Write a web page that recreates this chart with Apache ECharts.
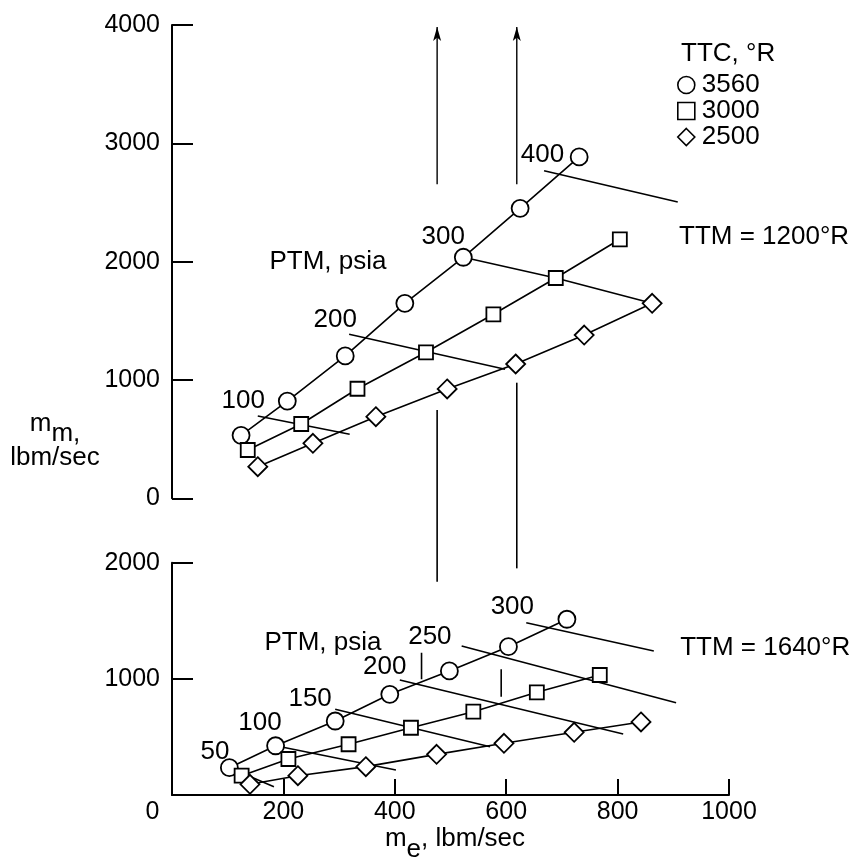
<!DOCTYPE html>
<html><head><meta charset="utf-8">
<script src="https://cdn.jsdelivr.net/npm/echarts@6/dist/echarts.min.js"></script>
<style>html,body{margin:0;padding:0;background:#fff}#c{width:856px;height:867px}</style>
</head><body><div id="c"></div>
<script>
const FONT = "'Liberation Sans', Arial, Helvetica, sans-serif";

// Legend / series definitions (TTC, °R)
const ttcNames = ['3560', '3000', '2500'];
const ttcSymbols = ['circle', 'rect', 'diamond'];
const ttcSizes = [17, 14, 19];

// Top panel, TTM = 1200°R : [m_e, m_m]
const top3560 = [[124,532],[207,822],[311,1203],[418,1648],[523,2037],[625,2451],[731,2885]];
const top3000 = [[136,408],[232,628],[333,926],[456,1234],[577,1555],[689,1862],[804,2189]];
const top2500 = [[154,267],[253,465],[366,690],[494,924],[617,1135],[740,1380],[862,1648]];
// constant-PTM lines (top)
const topPTM100 = [[154,696],[319,541]];
const topPTM200 = [[318,1386],[598,1090]];
const topPTM300 = [[523,2037],[689,1862],[862,1648]];
const topPTM400 = [[668,2769],[908,2504]];

// Bottom panel, TTM = 1640°R
const bot3560 = [[103,235],[186,424],[293,637],[391,867],[498,1068],[604,1277],[709,1513]];
const bot3000 = [[125,166],[209,310],[317,437],[429,579],[541,717],[655,884],[768,1033]];
const bot2500 = [[140,92],[226,166],[348,244],[475,350],[596,445],[722,540],[842,629]];
const botPTM50  = [[103,235],[183,71]];
const botPTM100 = [[186,424],[402,215]];
const botPTM150 = [[293,738],[571,416]];
const botPTM200 = [[409,990],[810,525]];
const botPTM250 = [[520,1283],[905,795]];
const botPTM300 = [[636,1483],[865,1240]];
// short vertical marks in bottom panel: [x, yFrom, yTo]
const botMarks = [[448,996,1225],[591,846,1082]];

// arrows (top panel): x positions, from/to m_m
const arrowX = [476, 619];
const arrowFrom = 2654, arrowTo = 3983;
// vertical links between panels (top panel coords): [x, yFrom, yTo]
const linkLines = [[476,746,-705],[619,977,-592]];

// Annotations: [text, m_e, m_m]
const topLabels = [['100',128,822],['200',293,1509],['300',487,2213],['400',665,2901],
  ['PTM, psia',280,1997],['TTM = 1200°R',1063,2208]];
const botLabels = [['PTM, psia',271,1313],['250',463,1363],['200',382,1105],['150',248,827],
  ['100',158,624],['50',77,370],['300',611,1621],['TTM = 1640°R',1065,1270]];

const xMin = 0, xMax = 1000, xInterval = 200;
const topYMax = 4000, botYMax = 2000, yInterval = 1000;

const chart = echarts.init(document.getElementById('c'), null, {renderer: 'canvas'});

function ttcSeries(i, data, gi) {
  return {
    name: ttcNames[i], type: 'line', xAxisIndex: gi, yAxisIndex: gi, data: data,
    symbol: ttcSymbols[i], symbolSize: ttcSizes[i], showAllSymbol: true, z: 4,
    itemStyle: {color: '#fff', borderColor: '#000', borderWidth: 1.8},
    lineStyle: {color: '#000', width: 1.6}, animation: false, silent: true
  };
}
function plainLine(data, gi, name) {
  return {
    name: name, type: 'line', xAxisIndex: gi, yAxisIndex: gi, data: data,
    symbol: 'none', z: 2, clip: false, lineStyle: {color: '#000', width: 1.6},
    animation: false, silent: true
  };
}
function labelSeries(labels, gi) {
  return {
    type: 'scatter', xAxisIndex: gi, yAxisIndex: gi, clip: false, z: 5,
    symbolSize: 1, itemStyle: {color: '#fff', opacity: 0}, silent: true, animation: false,
    data: labels.map(l => ({name: l[0], value: [l[1], l[2]]})),
    label: {show: true, position: 'inside', formatter: '{b}', color: '#000', opacity: 1,
      textBorderWidth: 0, fontFamily: FONT, fontSize: 26, align: 'center', verticalAlign: 'middle'}
  };
}

const series = [];
[topPTM100, topPTM200, topPTM300, topPTM400].forEach((d, k) => series.push(plainLine(d, 0, 'ptmTop' + k)));
[botPTM50, botPTM100, botPTM150, botPTM200, botPTM250, botPTM300].forEach((d, k) => series.push(plainLine(d, 1, 'ptmBot' + k)));
botMarks.forEach((m, k) => series.push(plainLine([[m[0], m[1]], [m[0], m[2]]], 1, 'mark' + k)));
linkLines.forEach((m, k) => series.push(plainLine([[m[0], m[1]], [m[0], m[2]]], 0, 'link' + k)));
arrowX.forEach((x, k) => {
  const s = plainLine([{value: [x, arrowFrom], symbol: 'none'},
    {value: [x, arrowTo], symbol: 'arrow', symbolSize: [6, 14]}], 0, 'arrow' + k);
  s.symbol = 'none';
  s.showSymbol = true;
  s.itemStyle = {color: '#000'};
  s.lineStyle = {color: '#000', width: 1.4};
  series.push(s);
});
[top3560, top3000, top2500].forEach((d, i) => series.push(ttcSeries(i, d, 0)));
[bot3560, bot3000, bot2500].forEach((d, i) => series.push(ttcSeries(i, d, 1)));
series.push(labelSeries(topLabels, 0));
series.push(labelSeries(botLabels, 1));

const axisLineStyle = {color: '#000', width: 2};
const plain = v => String(v);
const option = {
  animation: false,
  backgroundColor: '#fff',
  textStyle: {fontFamily: FONT, color: '#000'},
  grid: [
    {left: 172, top: 25, width: 557, height: 473.3},
    {left: 172, top: 562.7, width: 557, height: 232.3}
  ],
  xAxis: [
    {type: 'value', gridIndex: 0, min: xMin, max: xMax, interval: xInterval, show: false},
    {type: 'value', gridIndex: 1, min: xMin, max: xMax, interval: xInterval,
      axisLine: {show: true, onZero: false, lineStyle: axisLineStyle},
      axisTick: {show: true, inside: true, length: 16, lineStyle: {color: '#000', width: 2}},
      splitLine: {show: false},
      axisLabel: {color: '#000', fontFamily: FONT, fontSize: 25, margin: 5,
        formatter: v => (v === 0 ? '' : String(v))},
      name: '{a|m}{b|e}{a|, lbm/sec}', nameLocation: 'middle', nameGap: 19,
      nameTextStyle: {padding: [0, 0, 0, 9], rich: {
        a: {fontFamily: FONT, fontSize: 26, color: '#000'},
        b: {fontFamily: FONT, fontSize: 26, color: '#000', padding: [22, 0, 0, 0]}}}
    }
  ],
  yAxis: [
    {type: 'value', gridIndex: 0, min: 0, max: topYMax, interval: yInterval,
      axisLine: {show: true, onZero: false, lineStyle: axisLineStyle},
      axisTick: {show: true, inside: true, length: 21, lineStyle: {color: '#000', width: 2}},
      splitLine: {show: false},
      axisLabel: {color: '#000', fontFamily: FONT, fontSize: 25, margin: 12, formatter: plain}},
    {type: 'value', gridIndex: 1, min: 0, max: botYMax, interval: yInterval,
      axisLine: {show: true, onZero: false, lineStyle: axisLineStyle},
      axisTick: {show: true, inside: true, length: 21, lineStyle: {color: '#000', width: 2}},
      splitLine: {show: false},
      axisLabel: {color: '#000', fontFamily: FONT, fontSize: 25, margin: 12,
        formatter: v => (v === 0 ? '' : String(v))}}
  ],
  legend: {
    show: true, selectedMode: false, orient: 'vertical', left: 677, top: 72,
    padding: 0, itemGap: 0, itemWidth: 17, itemHeight: 17,
    data: ttcNames.map((n, i) => ({name: n, icon: ttcSymbols[i]})),
    itemStyle: {color: '#fff', borderColor: '#000', borderWidth: 1.6},
    textStyle: {color: '#000', fontFamily: FONT, fontSize: 26, lineHeight: 26, padding: [0, 0, 0, 2]}
  },
  graphic: [
    {type: 'text', x: 681, y: 54.2, silent: true,
      style: {text: 'TTC, °R', fill: '#000', font: '26px ' + FONT, align: 'left', verticalAlign: 'middle'}},
    {type: 'text', x: 55, y: 424, silent: true,
      style: {text: '{a|m}{b|m,}', fill: '#000', font: '26px ' + FONT, align: 'center', verticalAlign: 'middle',
        rich: {a: {fontSize: 26, fontFamily: FONT}, b: {fontSize: 26, fontFamily: FONT, padding: [20, 0, 0, 0]}}}},
    {type: 'text', x: 55, y: 457.7, silent: true,
      style: {text: 'lbm/sec', fill: '#000', font: '26px ' + FONT, align: 'center', verticalAlign: 'middle'}},
    {type: 'text', x: 152.5, y: 812.5, silent: true,
      style: {text: '0', fill: '#000', font: '25px ' + FONT, align: 'center', verticalAlign: 'middle'}}
  ],
  series: series
};
chart.setOption(option);
</script></body></html>
